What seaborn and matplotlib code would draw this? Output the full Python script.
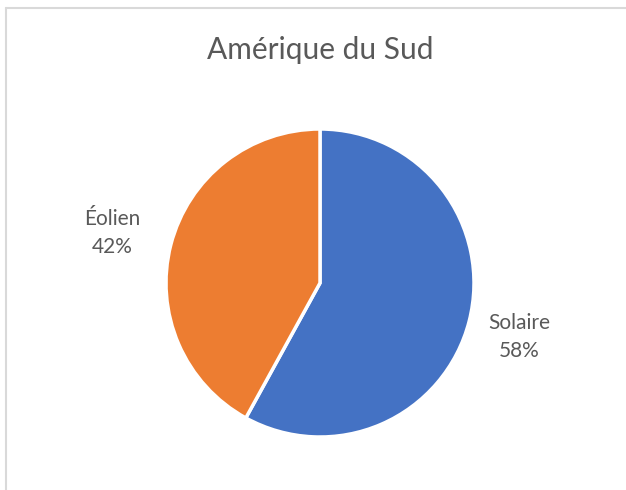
import matplotlib
matplotlib.use("Agg")
import matplotlib.pyplot as plt
from matplotlib.lines import Line2D
import seaborn as sns

# data
categories = ["Solaire", "Éolien"]
shares = [58, 42]
colors = ["#4472C4", "#ED7D31"]
title = "Amérique du Sud"

sns.set_theme(style="white")
plt.rcParams["font.family"] = ["Lato", "DejaVu Sans"]
text_color = "#595959"

fig = plt.figure(figsize=(6.26, 4.9), dpi=100)

# light chart-area frame (only top and left edges are visible in the crop)
fx, fy = 6 / 626, 1 - 8 / 490
fig.add_artist(Line2D([fx, 1], [fy, fy], transform=fig.transFigure, color="#D9D9D9", lw=1.5))
fig.add_artist(Line2D([fx, fx], [0, fy], transform=fig.transFigure, color="#D9D9D9", lw=1.5))

ax = fig.add_axes([(320 - 154) / 626, (490 - 283 - 154) / 490, 308 / 626, 308 / 490])
wedges, _ = ax.pie(shares, colors=colors, startangle=90, counterclock=False,
                   wedgeprops=dict(edgecolor="white", linewidth=2.5))
ax.set_xlim(-1, 1)
ax.set_ylim(-1, 1)
ax.set_aspect("equal")

# data labels
label_pos = {"Solaire": (519, 337), "Éolien": (112, 233)}
for cat, val in zip(categories, shares):
    x, y = label_pos[cat]
    fig.text(x / 626, 1 - y / 490, f"{cat}\n{val}%", ha="center", va="center",
             fontsize=15, color=text_color, linespacing=1.45)

fig.text(320 / 626, 1 - 50 / 490, title, ha="center", va="center",
         fontsize=21.5, color=text_color)

fig.savefig("out.png", dpi=100, facecolor="white")
